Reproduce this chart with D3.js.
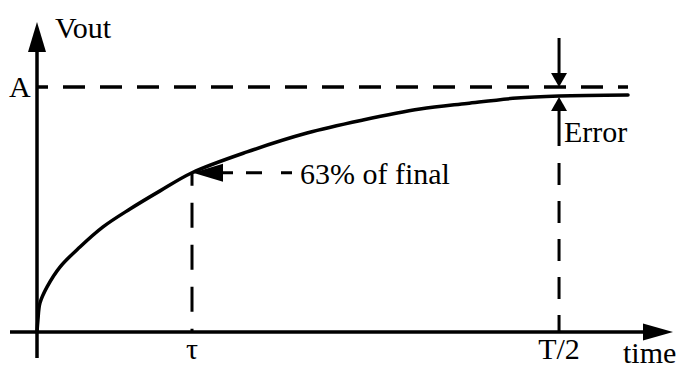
<!DOCTYPE html>
<html>
<head>
<meta charset="utf-8">
<script src="https://cdn.jsdelivr.net/npm/d3@7"></script>
<style>
  html, body { margin: 0; padding: 0; background: #fff; }
  svg { display: block; }
</style>
</head>
<body>
<svg id="chart" width="680" height="370"></svg>
<script>
// Step response of an RC stage: time in units of the time constant, output as a fraction of A
const curveTime = [0, 0.006, 0.019, 0.065, 0.148, 0.277, 0.426, 0.6, 0.794, 1.0, 1.355, 1.742, 2.103, 2.471, 2.774, 3.097, 3.368, 3.813];
const curveVout = [0, 0.049, 0.118, 0.184, 0.265, 0.347, 0.429, 0.502, 0.576, 0.65, 0.735, 0.812, 0.865, 0.910, 0.933, 0.955, 0.963, 0.967];

// Marked instants on the time axis
const tickTimes = [1, 3.368];
const tickLabels = ["τ", "T/2"];

// Final level on the Vout axis
const levelValue = 1;
const levelLabel = "A";

const axisLabels = { y: "Vout", x: "time" };
const noteText = "63% of final";
const errorText = "Error";

const svg = d3.select("#chart");
const ink = "#000";

const x = d3.scaleLinear().domain([0, 1]).range([37, 192]);
const y = d3.scaleLinear().domain([0, 1]).range([332, 87]);

const tTau = tickTimes[0], tHalf = tickTimes[1];
const tEnd = curveTime[curveTime.length - 1];
const vAt = t => curveVout[curveTime.indexOf(t)];

function label(px, py, str, anchor) {
  return svg.append("text")
    .attr("x", px).attr("y", py)
    .style("font-family", "'Liberation Serif'")
    .style("font-size", "30px")
    .attr("fill", ink)
    .attr("text-anchor", anchor || "start")
    .text(str);
}

function arrowHead(tipX, tipY, dir, len, half) {
  let pts;
  if (dir === "up") pts = [[tipX, tipY], [tipX - half, tipY + len], [tipX + half, tipY + len]];
  if (dir === "down") pts = [[tipX, tipY], [tipX - half, tipY - len], [tipX + half, tipY - len]];
  if (dir === "left") pts = [[tipX, tipY], [tipX + len, tipY - half], [tipX + len, tipY + half]];
  if (dir === "right") pts = [[tipX, tipY], [tipX - len, tipY - half], [tipX - len, tipY + half]];
  svg.append("path").attr("d", "M" + pts.join("L") + "Z").attr("fill", ink);
}

// Axes
const x0 = x(0), y0 = y(0);
svg.append("line").attr("x1", x0).attr("x2", x0).attr("y1", 358).attr("y2", 48)
  .attr("stroke", ink).attr("stroke-width", 3.5);
arrowHead(x0, 22, "up", 30, 9);
svg.append("line").attr("x1", 10).attr("x2", 648).attr("y1", y0).attr("y2", y0)
  .attr("stroke", ink).attr("stroke-width", 3.5);
arrowHead(673, y0, "right", 30, 8.5);

label(55, 38, axisLabels.y);
label(623, 363, axisLabels.x);

// Final level A
svg.append("line").attr("x1", x0 + 1).attr("x2", x(tEnd)).attr("y1", y(levelValue)).attr("y2", y(levelValue))
  .attr("stroke", ink).attr("stroke-width", 3.5)
  .attr("stroke-dasharray", "22,15").attr("stroke-dashoffset", 12);
label(9, y(levelValue) + 10, levelLabel);

// Tick labels
tickTimes.forEach((t, i) => label(x(t), 359, tickLabels[i], "middle"));

// Drop line at τ
svg.append("line").attr("x1", x(tTau)).attr("x2", x(tTau)).attr("y1", y(vAt(tTau)) + 1).attr("y2", y0)
  .attr("stroke", ink).attr("stroke-width", 3)
  .attr("stroke-dasharray", "25,17").attr("stroke-dashoffset", 13);

// Drop line at T/2
svg.append("line").attr("x1", x(tHalf)).attr("x2", x(tHalf)).attr("y1", 163).attr("y2", y0)
  .attr("stroke", ink).attr("stroke-width", 3)
  .attr("stroke-dasharray", "22,16");

// Response curve
const line = d3.line().x((d, i) => x(curveTime[i])).y(d => y(d)).curve(d3.curveCatmullRom.alpha(0.5));
svg.append("path").datum(curveVout).attr("d", line)
  .attr("fill", "none").attr("stroke", ink).attr("stroke-width", 3.5).attr("stroke-linecap", "round");

// 63% annotation
const tauX = x(tTau), tauY = y(vAt(tTau));
arrowHead(tauX + 1, tauY, "left", 30, 9);
svg.append("line").attr("x1", tauX + 30).attr("x2", 293).attr("y1", tauY).attr("y2", tauY)
  .attr("stroke", ink).attr("stroke-width", 3)
  .attr("stroke-dasharray", "11,13,16,19,11");
label(300, tauY + 11, noteText);

// Error annotation at T/2
const hx = x(tHalf);
svg.append("line").attr("x1", hx).attr("x2", hx).attr("y1", 38).attr("y2", 76)
  .attr("stroke", ink).attr("stroke-width", 3);
arrowHead(hx, y(levelValue), "down", 14, 8);
arrowHead(hx, y(vAt(tHalf)) + 1, "up", 14, 8);
svg.append("line").attr("x1", hx).attr("x2", hx).attr("y1", y(vAt(tHalf)) + 12).attr("y2", 146)
  .attr("stroke", ink).attr("stroke-width", 3);
label(hx + 5, 142, errorText);
</script>
</body>
</html>
